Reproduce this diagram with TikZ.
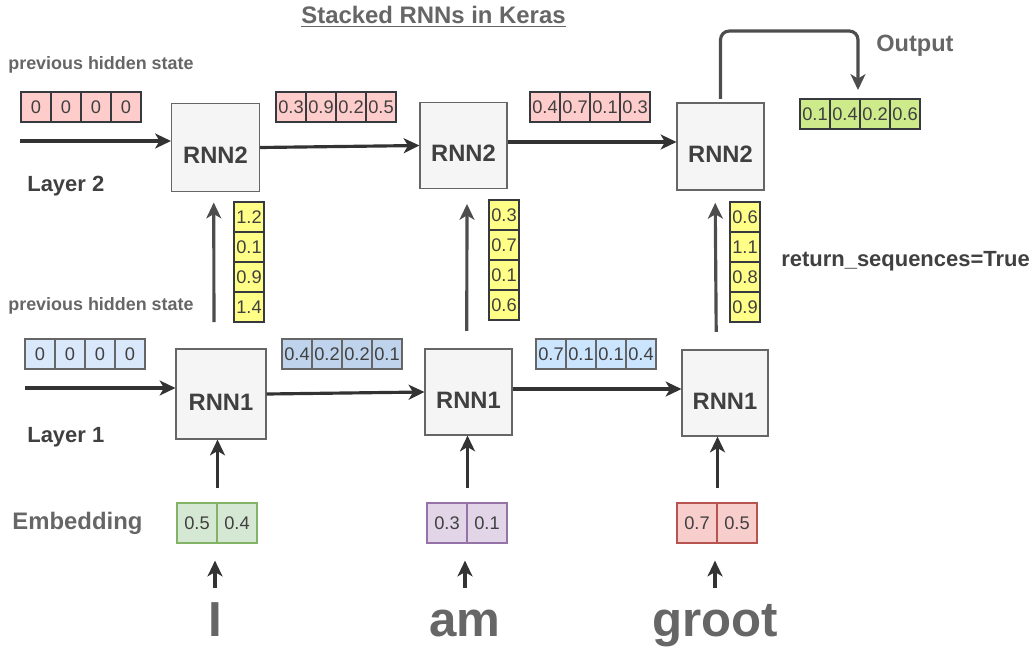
\documentclass[tikz,border=0pt]{standalone}
\usepackage{fontspec}
\setmainfont{Liberation Sans}
\usetikzlibrary{arrows.meta, positioning}

\definecolor{txtgray}{HTML}{666666}
\definecolor{txtdark}{HTML}{404040}
\definecolor{arrowdark}{HTML}{333333}
\definecolor{arrowgray}{HTML}{4D4D4D}
\definecolor{boxfill}{HTML}{F5F5F5}
\definecolor{celledge}{HTML}{36393D}
\definecolor{pinkcell}{HTML}{FFCCCC}
\definecolor{bluecellA}{HTML}{DAE8FC}
\definecolor{bluecellB}{HTML}{BFD4EC}
\definecolor{bluecellC}{HTML}{CCE5FF}
\definecolor{yellowcell}{HTML}{FFFF88}
\definecolor{greencell}{HTML}{CDEB8B}
\definecolor{embgreen}{HTML}{D5E8D4}
\definecolor{embgreenedge}{HTML}{82B366}
\definecolor{embpurple}{HTML}{E1D5E7}
\definecolor{embpurpleedge}{HTML}{9673A6}
\definecolor{embred}{HTML}{F8CECC}
\definecolor{embrededge}{HTML}{B85450}

\tikzset{
  rnn/.style={draw=txtgray, line width=0.6pt, fill=boxfill, minimum width=1.76cm, minimum height=1.76cm,
    text height=18.7pt, text depth=0pt,
    font=\fontsize{13.5}{16}\selectfont\bfseries, text=txtdark},
  cell/.style={draw=celledge, line width=0.6pt, minimum width=0.6cm, minimum height=0.6cm, inner sep=0pt,
    font=\fontsize{10.4}{12}\selectfont, text=txtdark},
  embcell/.style={cell, minimum width=0.8cm, minimum height=0.8cm},
  flow/.style={line width=1.8pt, draw=arrowdark, -{Stealth[length=9pt,width=8.5pt,inset=2.5pt]}},
  upflow/.style={flow, draw=arrowgray},
  lbl/.style={anchor=west, inner sep=0pt, font=\bfseries},
  word/.style={inner sep=0pt, anchor=base, text height=20pt, text depth=6pt,
    font=\fontsize{28}{32}\selectfont\bfseries, text=txtgray}
}

\begin{document}
\begin{tikzpicture}[x=0.02cm,y=-0.02cm]
\useasboundingbox (0,0) rectangle (1036,650);

% title
\node[inner sep=0pt, font=\fontsize{13.6}{16}\selectfont\bfseries, text=txtgray] (title) at (433.5,17) {\underline{Stacked RNNs in Keras}};

% layer 2
\node[lbl, font=\fontsize{10.2}{12}\selectfont\bfseries, text=txtgray] (prev2) at (8,65) {previous hidden state};
\node[lbl, font=\fontsize{12.5}{15}\selectfont\bfseries, text=txtdark] (layer2) at (27,186) {Layer 2};
\node[rnn] (A) at (215.5,147.5) {RNN2};
\node[rnn, minimum width=1.74cm, minimum height=1.72cm] (B) at (463.5,145.5) {RNN2};
\node[rnn, minimum width=1.74cm, minimum height=1.74cm] (C) at (720.5,146.5) {RNN2};
\foreach \v [count=\i] in {0,0,0,0}
  \node[cell, fill=pinkcell] (ha\i) at (6+30*\i,107) {\v};
\foreach \v [count=\i] in {0.3,0.9,0.2,0.5}
  \node[cell, fill=pinkcell] (hb\i) at (261+30*\i,107) {\v};
\foreach \v [count=\i] in {0.4,0.7,0.1,0.3}
  \node[cell, fill=pinkcell] (hc\i) at (515+30*\i,107) {\v};
\foreach \v [count=\i] in {0.1,0.4,0.2,0.6}
  \node[cell, fill=greencell] (out\i) at (785+30*\i,114) {\v};
\node[lbl, font=\fontsize{13.4}{16}\selectfont\bfseries, text=txtgray] (output) at (876,46) {Output};

\coordinate (h2start) at (20,141);
\draw[flow] (h2start) -- (h2start -| A.west);
\draw[flow] (A.east) -- (B.west);
\draw[flow] ([yshift=2pt]B.east) -- ([yshift=2pt]B.east -| C.west);
\coordinate (outtop) at (858,31);
\coordinate (outtip) at (858,90);
\draw[upflow, rounded corners=5pt] ([yshift=2pt]C.north) |- (outtop) -- (outtip);

% layer 1
\node[lbl, font=\fontsize{10.2}{12}\selectfont\bfseries, text=txtgray] (prev1) at (8,306) {previous hidden state};
\node[lbl, font=\fontsize{12.5}{15}\selectfont\bfseries, text=txtdark] (layer1) at (27,437) {Layer 1};
\node[rnn, minimum width=1.8cm, minimum height=1.8cm] (D) at (221,394) {RNN1};
\node[rnn, minimum width=1.74cm, minimum height=1.72cm] (E) at (468.5,392) {RNN1};
\node[rnn, minimum width=1.72cm, minimum height=1.72cm] (F) at (725,393) {RNN1};
\foreach \v [count=\i] in {0,0,0,0}
  \node[cell, draw=txtgray, fill=bluecellA] (ga\i) at (10+30*\i,354) {\v};
\foreach \v [count=\i] in {0.4,0.2,0.2,0.1}
  \node[cell, draw=txtgray, fill=bluecellB] (gb\i) at (267+30*\i,354) {\v};
\foreach \v [count=\i] in {0.7,0.1,0.1,0.4}
  \node[cell, draw=txtgray, fill=bluecellC] (gc\i) at (521+30*\i,354) {\v};

\coordinate (h1start) at (25,388);
\draw[flow] (h1start) -- (h1start -| D.west);
\draw[flow] (D.east) -- (E.west);
\draw[flow] ([yshift=1.7pt]E.east) -- ([yshift=1.7pt]E.east -| F.west);

% layer 1 -> layer 2
\foreach \v [count=\i] in {1.2,0.1,0.9,1.4}
  \node[cell, fill=yellowcell] (ya\i) at (249,187+30*\i) {\v};
\foreach \v [count=\i] in {0.3,0.7,0.1,0.6}
  \node[cell, fill=yellowcell] (yb\i) at (504,185+30*\i) {\v};
\foreach \v [count=\i] in {0.6,1.1,0.8,0.9}
  \node[cell, fill=yellowcell] (yc\i) at (745,187+30*\i) {\v};
\draw[upflow] ([xshift=-4pt,yshift=15pt]D.north) -- ([xshift=-1pt,yshift=-6pt]A.south);
\draw[upflow] ([xshift=-1pt,yshift=10pt]E.north) -- ([xshift=2pt,yshift=-8.5pt]B.south);
\draw[upflow] ([xshift=-5pt,yshift=10pt]F.north) -- ([xshift=-3pt,yshift=-7pt]C.south);
\node[lbl, font=\fontsize{12.5}{15}\selectfont\bfseries, text=txtdark] (retseq) at (781,261) {return\_sequences=True};

% embedding
\node[lbl, font=\fontsize{13.6}{16}\selectfont\bfseries, text=txtgray] (embedding) at (12,523) {Embedding};
\node[embcell, draw=embgreenedge, fill=embgreen] (eI1) at (197,523) {0.5};
\node[embcell, draw=embgreenedge, fill=embgreen] (eI2) at (237,523) {0.4};
\node[embcell, draw=embpurpleedge, fill=embpurple] (eam1) at (447,523) {0.3};
\node[embcell, draw=embpurpleedge, fill=embpurple] (eam2) at (487,523) {0.1};
\node[embcell, draw=embrededge, fill=embred] (egr1) at (697,523) {0.7};
\node[embcell, draw=embrededge, fill=embred] (egr2) at (737,523) {0.5};
\draw[flow] ([yshift=8pt]eI1.north east) -- (eI1.north east |- D.south);
\draw[flow] ([yshift=8pt]eam1.north east) -- (eam1.north east |- E.south);
\draw[flow] ([yshift=8pt]egr1.north east) -- (egr1.north east |- F.south);

% words
\node[word] (wI) at (215,636) {I};
\node[word] (wam) at (465,636) {am};
\node[word] (wgroot) at (715,636) {groot};
\draw[flow] ([yshift=7pt]wI.north) -- ([yshift=-9.7pt]eI1.south -| wI.north);
\draw[flow] ([yshift=7pt]wam.north) -- ([yshift=-9.7pt]eam1.south -| wam.north);
\draw[flow] ([yshift=7pt]wgroot.north) -- ([yshift=-9.7pt]egr1.south -| wgroot.north);
\end{tikzpicture}
\end{document}
